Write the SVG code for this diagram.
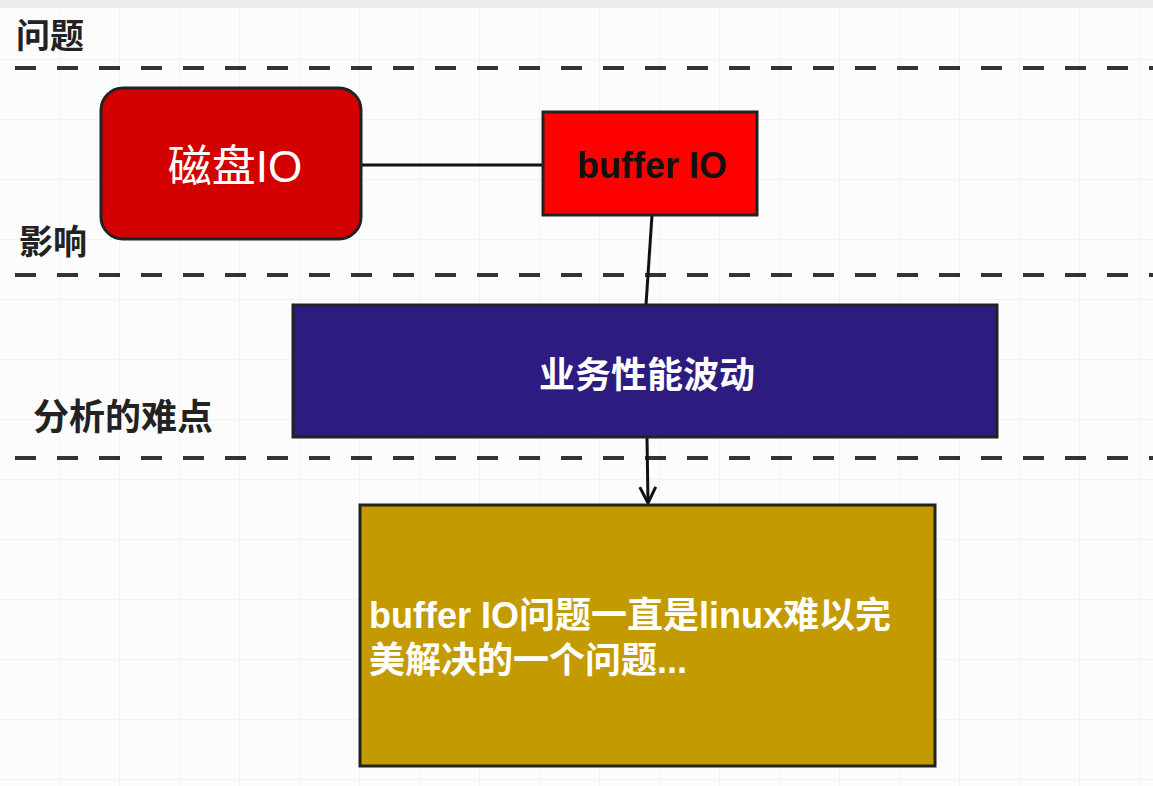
<svg xmlns="http://www.w3.org/2000/svg" width="1153" height="786" viewBox="0 0 1153 786">
<style>
.lbl{font-family:"Liberation Sans","Noto Sans CJK SC",sans-serif;font-size:34px;font-weight:bold;fill:#222}
.dash{stroke:#333;stroke-width:4;stroke-dasharray:21 21;fill:none}
.box{stroke:#222;stroke-width:3}
.t{font-family:"Liberation Sans","Noto Sans CJK SC",sans-serif;font-size:36px;font-weight:bold}
.conn{stroke:#111;stroke-width:3;fill:none}
</style>
<defs>
<pattern id="grid" width="60" height="60" patternUnits="userSpaceOnUse">
<path d="M60 0V60M0 60H60" stroke="#f1f1f1" stroke-width="1.5" fill="none"/>
</pattern>
<marker id="arr" viewBox="0 0 20 20" refX="18" refY="10" markerWidth="20" markerHeight="20" markerUnits="userSpaceOnUse" orient="auto">
<path d="M2 2L18 10L2 18" fill="none" stroke="#111" stroke-width="3"/>
</marker>
</defs>
<rect width="1153" height="786" fill="#fcfcfc"/>
<rect width="1153" height="786" fill="url(#grid)"/>
<rect width="1153" height="8" fill="#ebebeb"/>
<g id="lanes">
<text class="lbl" x="16" y="48">问题</text>
<text class="lbl" x="19" y="254">影响</text>
<text class="lbl" x="33" y="430" style="font-size:36px">分析的难点</text>
<line class="dash" x1="15" y1="68" x2="1153" y2="68"/>
<line class="dash" x1="15" y1="275" x2="1153" y2="275"/>
<line class="dash" x1="15" y1="458" x2="1153" y2="458"/>
</g>
<g id="connectors">
<line class="conn" x1="361" y1="165" x2="543" y2="165"/>
<line class="conn" x1="652" y1="215" x2="646" y2="305"/>
<line class="conn" x1="647" y1="437" x2="648" y2="503" marker-end="url(#arr)"/>
</g>
<g id="disk">
<rect class="box" x="101" y="88" width="260" height="151" rx="22" fill="#d30000"/>
<text x="235" y="182" text-anchor="middle" fill="#fff" style="font-family:'Liberation Sans','Noto Sans CJK SC',sans-serif;font-size:44px">磁盘IO</text>
</g>
<g id="buffer">
<rect class="box" x="543" y="112" width="214" height="103" fill="#ff0000"/>
<text class="t" x="652" y="178" text-anchor="middle" fill="#111">buffer IO</text>
</g>
<g id="perf">
<rect class="box" x="293" y="305" width="704" height="132" fill="#2e1b80"/>
<text class="t" x="647" y="388" text-anchor="middle" fill="#fff">业务性能波动</text>
</g>
<g id="note">
<rect class="box" x="360" y="505" width="575" height="261" fill="#c39a00"/>
<text class="t" fill="#fff"><tspan x="369" y="628">buffer IO问题一直是linux难以完</tspan><tspan x="369" y="673">美解决的一个问题...</tspan></text>
</g>
</svg>
